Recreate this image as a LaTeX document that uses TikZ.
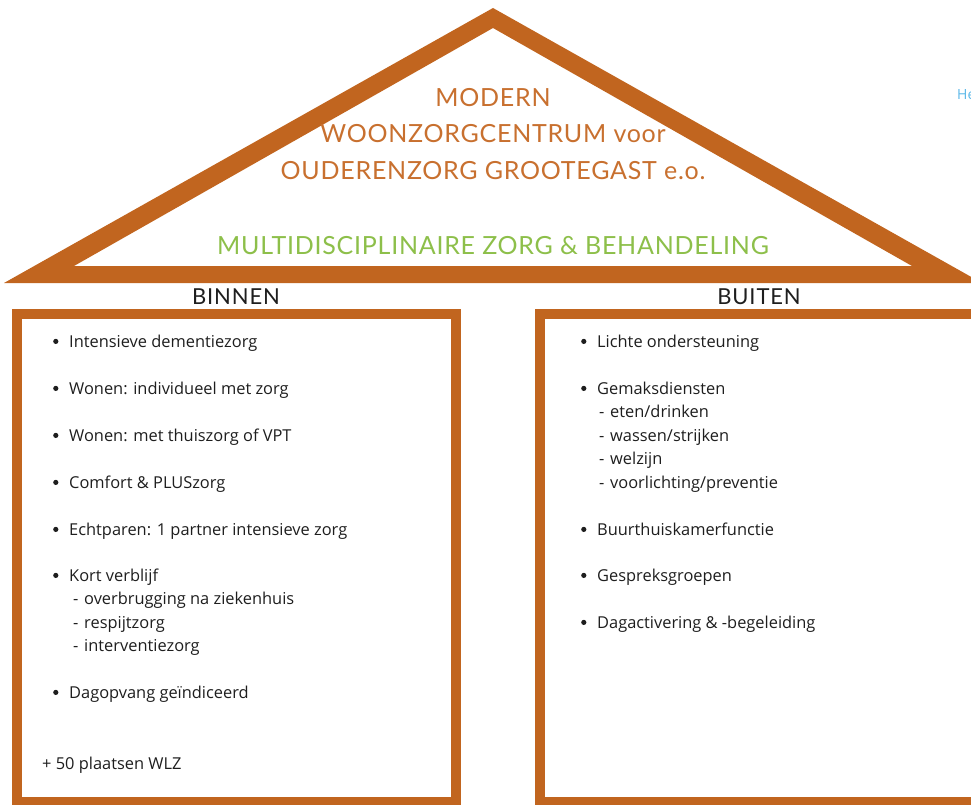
\documentclass[tikz,border=0pt]{standalone}
\usepackage{fontspec}
\setmainfont{Open Sans}
\newfontfamily\titlefont[LetterSpace=3]{Lato}
\newfontfamily\headfont[LetterSpace=4]{Lato}
\usetikzlibrary{positioning}

\definecolor{roof}{HTML}{C1651F}
\definecolor{titleor}{HTML}{C8702F}
\definecolor{zorggreen}{HTML}{8DBF4A}
\definecolor{linkblue}{HTML}{5BB8E8}
\definecolor{ink}{HTML}{1E1E1E}
\newcommand{\bul}{\makebox[16pt][l]{\tikz[baseline=0pt,x=1pt,y=1pt]\fill[ink] (2.6,5.6) circle (2.6);}}
\newcommand{\dsh}{\makebox[11pt][l]{-}}

\begin{document}
\begin{tikzpicture}[x=1pt,y=-1pt,
  title/.style={anchor=base,text=titleor,inner sep=0pt,
                font=\titlefont\fontsize{25}{28}\selectfont},
  head/.style={anchor=base,text=ink,inner sep=0pt,
               font=\headfont\fontsize{22}{26}\selectfont},
  item/.style={anchor=base west,text=ink,inner sep=0pt,
               font=\fontsize{16.4}{19}\selectfont},
  box/.style={draw=roof,line width=10pt}]
  \useasboundingbox (0,0) rectangle (971,805);
  \clip (0,0) rectangle (971,805);

  % roof
  \fill[roof,even odd rule] (4,283) -- (493,8) -- (982,283) -- cycle
                            (74,266) -- (493,28) -- (912,266) -- cycle;
  \node[title] (t1) at (493,107) {MODERN};
  \node[title] (t2) at (493,143) {WOONZORGCENTRUM voor};
  \node[title] (t3) at (493,180) {OUDERENZORG GROOTEGAST e.o.};
  \node[title,text=zorggreen] (t4) at (493,254) {MULTIDISCIPLINAIRE ZORG \& BEHANDELING};
  \node[anchor=base west,inner sep=0pt,text=linkblue,
        font=\fontsize{14}{16}\selectfont] (he) at (957,100) {He};

  % boxes
  \draw[box] (17,314) rectangle (456,802);
  \draw[box] (540,314) rectangle (1000,802);
  \node[head] (binnen) at (236,304) {BINNEN};
  \node[head] (buiten) at (759,304) {BUITEN};

  % binnen
  \node[item] (b1) at (53,347)   {\bul Intensieve dementiezorg};
  \node[item] (b2) at (53,394)   {\bul Wonen: individueel met zorg};
  \node[item] (b3) at (53,441)   {\bul Wonen: met thuiszorg of VPT};
  \node[item] (b4) at (53,488)   {\bul Comfort \& PLUSzorg};
  \node[item] (b5) at (53,535)   {\bul Echtparen: 1 partner intensieve zorg};
  \node[item] (b6) at (53,581)   {\bul Kort verblijf};
  \node[item] (b6a) at (73,604)  {\dsh overbrugging na ziekenhuis};
  \node[item] (b6b) at (73,628)  {\dsh respijtzorg};
  \node[item] (b6c) at (73,651)  {\dsh interventiezorg};
  \node[item] (b7) at (53,698)   {\bul Dagopvang geïndiceerd};
  \node[item] (b8) at (42,769)   {+ 50 plaatsen WLZ};

  % buiten
  \node[item] (u1) at (581,347)  {\bul Lichte ondersteuning};
  \node[item] (u2) at (581,394)  {\bul Gemaksdiensten};
  \node[item] (u2a) at (599,417) {\dsh eten/drinken};
  \node[item] (u2b) at (599,441) {\dsh wassen/strijken};
  \node[item] (u2c) at (599,464) {\dsh welzijn};
  \node[item] (u2d) at (599,488) {\dsh voorlichting/preventie};
  \node[item] (u3) at (581,535)  {\bul Buurthuiskamerfunctie};
  \node[item] (u4) at (581,581)  {\bul Gespreksgroepen};
  \node[item] (u5) at (581,628)  {\bul Dagactivering \& -begeleiding};
\end{tikzpicture}
\end{document}
